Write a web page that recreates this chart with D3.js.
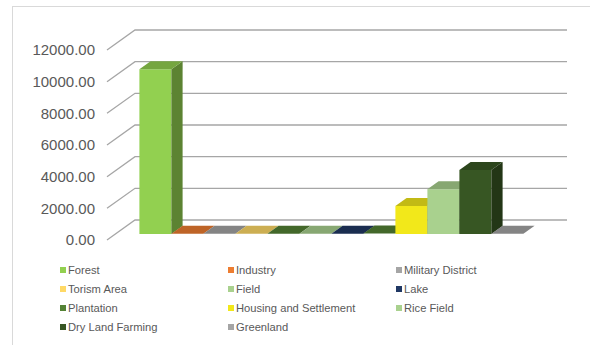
<!DOCTYPE html>
<html>
<head>
<meta charset="utf-8">
<script src="https://cdn.jsdelivr.net/npm/d3@7"></script>
<style>
  html, body { margin: 0; padding: 0; background: #ffffff; }
  svg { display: block; font-family: "Liberation Sans", Arial, sans-serif; }
</style>
</head>
<body>
<svg id="chart" width="590" height="345"></svg>
<script>
// Land use area per class (one 3D column per class, left to right).
// The fifth column has no legend entry.
const landUse = ["Forest", "Industry", "Military District", "Torism Area", null, "Field",
                 "Lake", "Plantation", "Housing and Settlement", "Rice Field",
                 "Dry Land Farming", "Greenland"];
const area = [10400, 20, 10, 15, 10, 20, 15, 30, 1770, 2820, 4040, 10];
const colors = ["#92d050", "#ed7d31", "#a5a5a5", "#ffd966", "#548235", "#a9d18e",
                "#203864", "#548235", "#f2e81a", "#a9d18e", "#375623", "#a5a5a5"];
const yTicks = [0, 2000, 4000, 6000, 8000, 10000, 12000];

const svg = d3.select("#chart");

// Oblique 3D frame: floor front-left corner, plot width, wall depth offset
const origin = { x: 107, y: 240 };
const plotW = 432;
const depth = { dx: 28, dy: -20 };
const barFront = 0.3, barBack = 0.7;

const y = d3.scaleLinear().domain([0, 12000]).range([0, 190]);
const x = d3.scaleBand().domain(d3.range(landUse.length)).range([0, plotW])
  .paddingInner(0).paddingOuter(0.75);

// project (horizontal offset, height in px, depth fraction) to screen
function proj(px, h, d) {
  return [origin.x + px + d * depth.dx, origin.y - h + d * depth.dy];
}

// chart area border
svg.append("rect")
  .attr("x", 12.5).attr("y", 6.5).attr("width", 620).attr("height", 400)
  .attr("fill", "none").attr("stroke", "#d9d9d9").attr("stroke-width", 1);

// gridlines on the back wall and the left wall
const grid = svg.append("g").attr("stroke", "#a6a6a6").attr("stroke-width", 1.3).attr("fill", "none");
yTicks.forEach(t => {
  const h = y(t);
  const a = proj(0, h, 0), b = proj(0, h, 1), c = proj(plotW, h, 1);
  grid.append("path").attr("d", d3.line()([a, b, c]));
});

// value axis labels
const fmt = d3.format(".2f");
svg.append("g").selectAll("text").data(yTicks).join("text")
  .attr("x", 95).attr("y", d => origin.y - y(d))
  .attr("dy", "0.35em").attr("text-anchor", "end")
  .attr("font-size", 15).attr("fill", "#595959")
  .text(d => fmt(d));

// columns, drawn left to right so each front face hides the previous side face
const shade = (c, k) => { const r = d3.rgb(c); return d3.rgb(r.r * k, r.g * k, r.b * k).formatHex(); };
const poly = pts => "M" + pts.map(p => p.join(",")).join("L") + "Z";
const bars = svg.append("g");
area.forEach((v, i) => {
  const x0 = x(i), x1 = x0 + x.bandwidth(), h = y(v);
  const g = bars.append("g");
  if (h > 0.5) {
    g.append("path").attr("fill", colors[i])
      .attr("d", poly([proj(x0, 0, barFront), proj(x1, 0, barFront), proj(x1, h, barFront), proj(x0, h, barFront)]));
    g.append("path").attr("fill", shade(colors[i], 0.63))
      .attr("d", poly([proj(x1, 0, barFront), proj(x1, 0, barBack), proj(x1, h, barBack), proj(x1, h, barFront)]));
  }
  g.append("path").attr("fill", shade(colors[i], 0.8))
    .attr("d", poly([proj(x0, h, barFront), proj(x1, h, barFront), proj(x1, h, barBack), proj(x0, h, barBack)]));
});

// legend, three columns filled row by row
const legendItems = landUse.map((name, i) => ({ name, color: colors[i] })).filter(d => d.name !== null);
const leg = svg.append("g").selectAll("g").data(legendItems).join("g")
  .attr("transform", (d, i) => `translate(${60 + (i % 3) * 168},${270 + Math.floor(i / 3) * 19})`);
leg.append("rect").attr("x", 0).attr("y", -3).attr("width", 6).attr("height", 6)
  .attr("fill", d => d.color);
leg.append("text").attr("x", 8).attr("dy", "0.35em")
  .attr("font-size", 11.2).attr("fill", "#595959")
  .text(d => d.name);
</script>
</body>
</html>
